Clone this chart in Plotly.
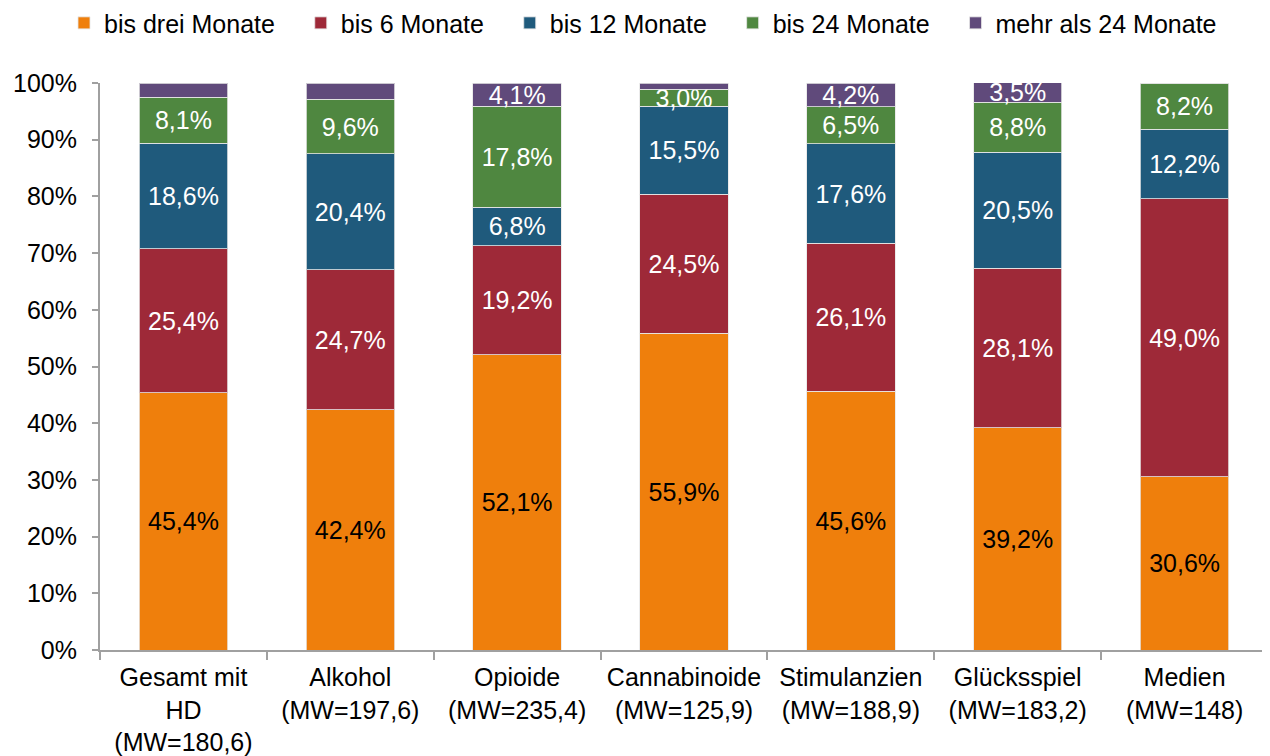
import plotly.graph_objects as go

categories = [
    "Gesamt mit<br>HD<br>(MW=180,6)",
    "Alkohol<br>(MW=197,6)",
    "Opioide<br>(MW=235,4)",
    "Cannabinoide<br>(MW=125,9)",
    "Stimulanzien<br>(MW=188,9)",
    "Glücksspiel<br>(MW=183,2)",
    "Medien<br>(MW=148)",
]

bis_drei = [45.4, 42.4, 52.1, 55.9, 45.6, 39.2, 30.6]
bis_6 = [25.4, 24.7, 19.2, 24.5, 26.1, 28.1, 49.0]
bis_12 = [18.6, 20.4, 6.8, 15.5, 17.6, 20.5, 12.2]
bis_24 = [8.1, 9.6, 17.8, 3.0, 6.5, 8.8, 8.2]
mehr_24 = [2.5, 2.9, 4.1, 1.1, 4.2, 3.5, 0.0]
mehr_24_shown = [False, False, True, False, True, True, False]

series = [
    ("bis drei Monate", bis_drei, "#EF7F0C", "black"),
    ("bis 6 Monate", bis_6, "#9E2938", "white"),
    ("bis 12 Monate", bis_12, "#1F5A7C", "white"),
    ("bis 24 Monate", bis_24, "#4F8740", "white"),
    ("mehr als 24 Monate", mehr_24, "#604A7B", "white"),
]

font = "Arial"
fs = 25
pad = "\u00a0" * 3  # extra room between legend entries

fig = go.Figure()
for i, (name, vals, color, tcol) in enumerate(series):
    if name == "mehr als 24 Monate":
        labels = [f"{v:.1f}%".replace(".", ",") if s else "" for v, s in zip(vals, mehr_24_shown)]
    else:
        labels = [f"{v:.1f}%".replace(".", ",") for v in vals]
    fig.add_trace(go.Bar(
        name=name + (pad if i < len(series) - 1 else ""), x=categories, y=vals, text=labels,
        textposition="inside", insidetextanchor="middle",
        textfont=dict(color=tcol, size=fs, family=font),
        marker=dict(color=color, line=dict(color="rgba(230,230,230,0.8)", width=1)),
        hoverinfo="skip",
    ))

# page body adds ~8px offset, margins compensate
fig.update_layout(
    barmode="stack",
    bargap=0.47,
    width=1270, height=756,
    margin=dict(l=92, r=10, t=75, b=114),
    paper_bgcolor="white", plot_bgcolor="white",
    font=dict(family=font, size=fs, color="black"),
    uniformtext=dict(minsize=fs - 2, mode="show"),
    showlegend=True,
    legend=dict(orientation="h", traceorder="normal", xref="container", yref="container",
                x=0.5, xanchor="center", y=0.98, yanchor="middle",
                font=dict(size=fs), itemwidth=30),
)
fig.update_yaxes(range=[0, 100], tickvals=[0, 10, 20, 30, 40, 50, 60, 70, 80, 90, 100],
                 ticktext=[f"{v}%" for v in range(0, 101, 10)],
                 showgrid=False, showline=True, linecolor="#A0A0A0", linewidth=2,
                 ticks="outside", ticklen=6, tickcolor="#A0A0A0", tickwidth=2,
                 zeroline=False, tickfont=dict(size=fs), ticklabelstandoff=10,
                 automargin=False)
fig.update_xaxes(showline=True, linecolor="#A0A0A0", linewidth=2,
                 ticks="outside", tickson="boundaries", ticklen=8, tickcolor="#A0A0A0",
                 tickwidth=2, tickfont=dict(size=fs), ticklabelstandoff=4,
                 automargin=False)

fig.write_html("out.html")
